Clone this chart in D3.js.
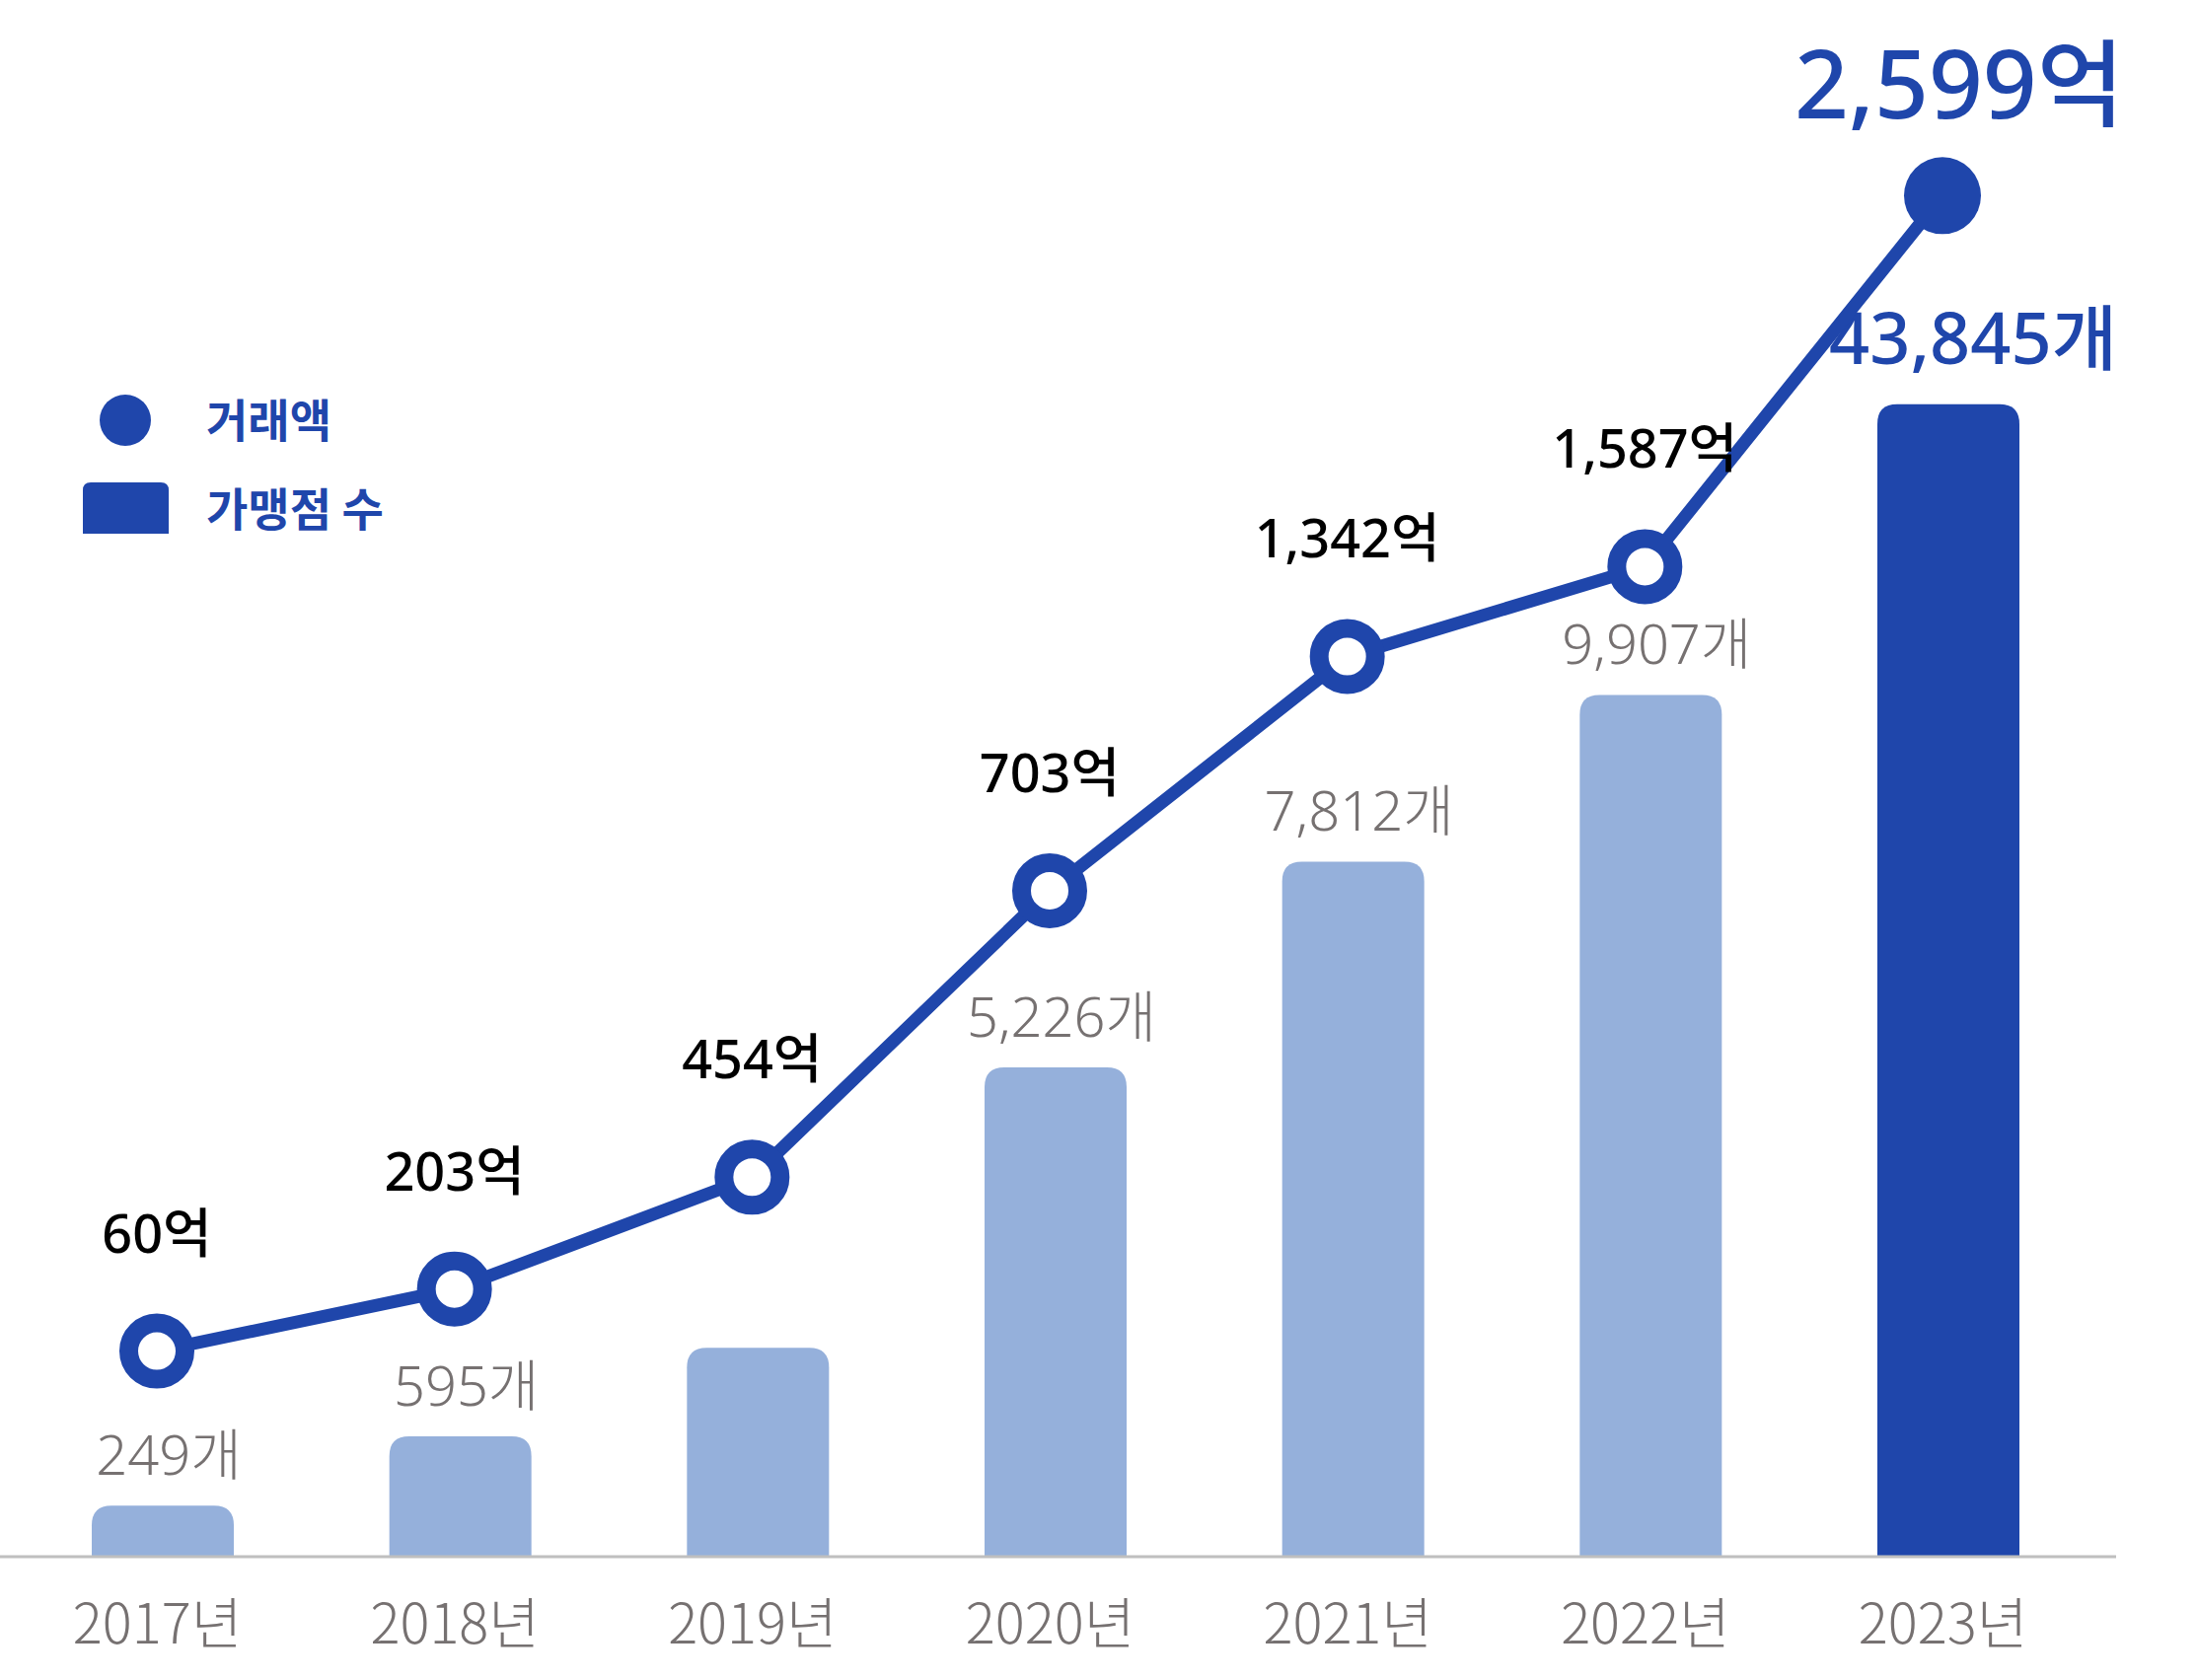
<!DOCTYPE html>
<html>
<head>
<meta charset="utf-8">
<script src="https://cdn.jsdelivr.net/npm/d3@7"></script>
<style>
  body { margin: 0; background: #fff; }
  text { font-family: "Noto Sans", "Noto Sans CJK KR", sans-serif; }
</style>
</head>
<body>
<div id="chart"></div>
<script>
// data
var years = ["2017년", "2018년", "2019년", "2020년", "2021년", "2022년", "2023년"];
var stores = [249, 595, 1700, 5226, 7812, 9907, 43845];     // 가맹점 수
var amounts = [60, 203, 454, 703, 1342, 1587, 2599];        // 거래액 (억)
var storeShown = [true, true, false, true, true, true, true];
var legendNames = ["거래액", "가맹점 수"];

var width = 2227, height = 1703;
var blue = "#1f46ab", light = "#95b0db", grey = "#767171";
var base = 1577;
var last = years.length - 1;

var fmt = d3.format(",");

var x = d3.scalePoint().domain(years).range([165, 1975]);

// compressed scales (the chart breaks its axis so small years stay visible)
var yBar = d3.scaleLinear()
    .domain([0, 600, 10000, 45000])
    .range([base, base - 122, base - 880, base - 1177]);

var yLine = d3.scaleLinear()
    .domain([0, 450, 700, 2600])
    .range([1396, 1198, 904, 198]);

var rows = years.map((y, i) => ({year: y, store: stores[i], amount: amounts[i], shown: storeShown[i], i: i}));

var svg = d3.select("#chart").append("svg")
    .attr("width", width)
    .attr("height", height)
    .attr("viewBox", [0, 0, width, height]);

// bar with rounded top corners only
function topRound(x0, y0, w, h, r) {
  r = Math.min(r, h, w / 2);
  return `M${x0},${y0 + h}V${y0 + r}Q${x0},${y0} ${x0 + r},${y0}H${x0 + w - r}Q${x0 + w},${y0} ${x0 + w},${y0 + r}V${y0 + h}Z`;
}

var bw = 144;

svg.append("g")
  .selectAll("path")
  .data(rows)
  .join("path")
    .attr("d", d => topRound(x(d.year) - bw / 2, yBar(d.store), bw, base - yBar(d.store), 20))
    .attr("fill", d => d.i == last ? blue : light);

// baseline
svg.append("line")
    .attr("x1", 0).attr("x2", 2145)
    .attr("y1", base + 1).attr("y2", base + 1)
    .attr("stroke", "#bfbfbf")
    .attr("stroke-width", 3);

// year axis
var axis = d3.axisBottom(x).tickSize(0).tickPadding(0);
var ax = svg.append("g")
    .attr("transform", `translate(-6,${base})`)
    .call(axis);
ax.select(".domain").remove();
ax.selectAll("text")
    .attr("dy", null)
    .attr("y", 89)
    .attr("fill", grey)
    .attr("font-size", 56)
    .attr("font-weight", 300)
    .style("font-family", "'Noto Sans CJK KR', sans-serif");

// store labels
svg.append("g")
  .selectAll("text")
  .data(rows.filter(d => d.shown))
  .join("text")
    .attr("text-anchor", "middle")
    .attr("x", d => x(d.year) + (d.i == last ? 25 : 6))
    .attr("y", d => yBar(d.store) - (d.i == last ? 41 : 31))
    .attr("font-size", d => d.i == last ? 72 : 56)
    .attr("font-weight", d => d.i == last ? 500 : 300)
    .attr("fill", d => d.i == last ? blue : grey)
    .text(d => fmt(d.store) + "개");

// amount line
var px = d => x(d.year) - 6;
var line = d3.line().x(px).y(d => yLine(d.amount));

svg.append("path")
    .datum(rows)
    .attr("d", line)
    .attr("fill", "none")
    .attr("stroke", blue)
    .attr("stroke-width", 13);

svg.append("g")
  .selectAll("circle")
  .data(rows)
  .join("circle")
    .attr("cx", px)
    .attr("cy", d => yLine(d.amount))
    .attr("r", d => d.i == last ? 39 : 28.5)
    .attr("fill", d => d.i == last ? blue : "#fff")
    .attr("stroke", blue)
    .attr("stroke-width", d => d.i == last ? 0 : 19);

svg.append("g")
  .selectAll("text")
  .data(rows)
  .join("text")
    .attr("text-anchor", "middle")
    .attr("x", d => px(d) + (d.i == last ? 17 : 0))
    .attr("y", d => yLine(d.amount) - (d.i == last ? 78 : 100))
    .attr("font-size", d => d.i == last ? 96 : 54)
    .attr("font-weight", 500)
    .attr("fill", d => d.i == last ? blue : "#000")
    .text(d => fmt(d.amount) + "억");

// legend
var lg = svg.append("g").attr("fill", blue);
lg.append("circle").attr("cx", 127).attr("cy", 426).attr("r", 26);
lg.append("path").attr("d", topRound(84, 489, 87, 52, 8));
lg.selectAll("text")
  .data(legendNames)
  .join("text")
    .attr("x", 209)
    .attr("y", (d, i) => 443 + i * 90)
    .attr("font-size", 46)
    .attr("font-weight", 700)
    .style("font-family", "'Noto Sans CJK KR', sans-serif")
    .text(d => d);
</script>
</body>
</html>
